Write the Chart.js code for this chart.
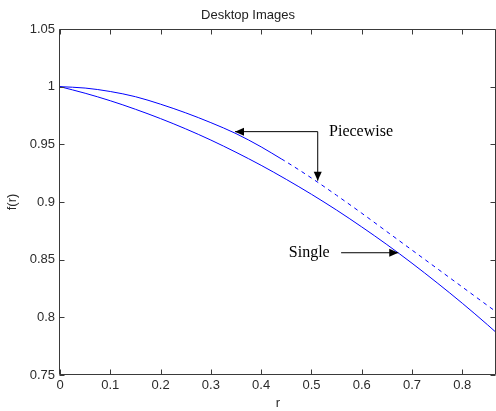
<!DOCTYPE html>
<html>
<head>
<meta charset="utf-8">
<script src="https://cdn.jsdelivr.net/npm/chart.js@4.4.1/dist/chart.umd.min.js"></script>
<style>
  html, body { margin: 0; padding: 0; background: #fff; }
  canvas { display: block; }
</style>
</head>
<body>
<canvas id="curveChart" width="496" height="411"></canvas>
<script>
// f(r)
var singleR = [0, 0.05, 0.1, 0.15, 0.2, 0.25, 0.3, 0.35, 0.4, 0.45, 0.5, 0.55, 0.6, 0.65, 0.7, 0.75, 0.8, 0.85, 0.867];
var singleF = [1.000, 0.9943, 0.9878, 0.9804, 0.9723, 0.9634, 0.9537, 0.9431, 0.9318, 0.9196, 0.9067, 0.893, 0.8784, 0.8631, 0.8469, 0.8299, 0.8122, 0.7936, 0.787];

var piecewiseR = [0, 0.05, 0.1, 0.15, 0.2, 0.25, 0.3, 0.35, 0.4, 0.44, 0.45, 0.5, 0.55, 0.6, 0.65, 0.7, 0.75, 0.8, 0.85, 0.867];
var piecewiseF = [1.000, 0.9988, 0.9958, 0.9913, 0.9848, 0.9773, 0.9688, 0.9593, 0.9478, 0.9374, 0.9348, 0.9208, 0.9058, 0.8903, 0.8743, 0.8583, 0.8423, 0.8263, 0.8103, 0.8049];
var dashFrom = 0.44; // piecewise curve is dashed past this r

var xTicks = [0, 0.1, 0.2, 0.3, 0.4, 0.5, 0.6, 0.7, 0.8];
var xTickLabels = ['0', '0.1', '0.2', '0.3', '0.4', '0.5', '0.6', '0.7', '0.8'];
var yTicks = [0.75, 0.8, 0.85, 0.9, 0.95, 1, 1.05];
var yTickLabels = ['0.75', '0.8', '0.85', '0.9', '0.95', '1', '1.05'];

// labels + arrows in data units (r, f)
var noteTexts = ['Piecewise', 'Single'];
var notePos = [[0.535, 0.961], [0.455, 0.856]];
var arrows = [
    [[0.5125, 0.961], [0.348, 0.961]],
    [[0.5125, 0.961], [0.5125, 0.9185]],
    [[0.559, 0.856], [0.6726, 0.856]]
];

function toPoints(xs, ys) {
    return xs.map(function (x, i) { return { x: x, y: ys[i] }; });
}

// matlab style box with inward ticks
var boxAxes = {
    id: 'boxAxes',
    afterDraw: function (chart) {
        var ctx = chart.ctx, a = chart.chartArea;
        var xs = chart.scales.x, ys = chart.scales.y;
        var L = Math.round(a.left) - 0.5, R = Math.round(a.right) - 0.5;
        var T = Math.round(a.top) + 0.5, B = Math.round(a.bottom) - 0.5;
        ctx.save();
        ctx.strokeStyle = '#3a3a3a';
        ctx.lineWidth = 1;
        ctx.beginPath();
        ctx.moveTo(L, T); ctx.lineTo(R, T);
        ctx.moveTo(L, T); ctx.lineTo(L, B);
        ctx.moveTo(L, B); ctx.lineTo(R, B);
        ctx.moveTo(R, T); ctx.lineTo(R, B);
        xTicks.forEach(function (v) {
            var px = Math.round(xs.getPixelForValue(v)) + 0.5;
            ctx.moveTo(px, B); ctx.lineTo(px, B - 5);
            ctx.moveTo(px, T); ctx.lineTo(px, T + 5);
        });
        yTicks.forEach(function (v) {
            var py = Math.round(ys.getPixelForValue(v)) + 0.5;
            ctx.moveTo(L, py); ctx.lineTo(L + 5, py);
            ctx.moveTo(R, py); ctx.lineTo(R - 5, py);
        });
        ctx.stroke();
        ctx.restore();
    }
};

var notesPlugin = {
    id: 'notes',
    afterDatasetsDraw: function (chart) {
        var ctx = chart.ctx, xs = chart.scales.x, ys = chart.scales.y;
        ctx.save();
        ctx.strokeStyle = '#000';
        ctx.fillStyle = '#000';
        ctx.lineWidth = 1;
        arrows.forEach(function (ar) {
            var x0 = xs.getPixelForValue(ar[0][0]), y0 = ys.getPixelForValue(ar[0][1]);
            var x1 = xs.getPixelForValue(ar[1][0]), y1 = ys.getPixelForValue(ar[1][1]);
            var ang = Math.atan2(y1 - y0, x1 - x0);
            ctx.beginPath();
            ctx.moveTo(x0, y0);
            ctx.lineTo(x1, y1);
            ctx.stroke();
            ctx.beginPath();
            ctx.moveTo(x1, y1);
            ctx.lineTo(x1 - 9 * Math.cos(ang) + 4 * Math.sin(ang), y1 - 9 * Math.sin(ang) - 4 * Math.cos(ang));
            ctx.lineTo(x1 - 9 * Math.cos(ang) - 4 * Math.sin(ang), y1 - 9 * Math.sin(ang) + 4 * Math.cos(ang));
            ctx.closePath();
            ctx.fill();
        });
        ctx.font = '16px "Liberation Serif"';
        ctx.textAlign = 'left';
        ctx.textBaseline = 'middle';
        noteTexts.forEach(function (t, i) {
            ctx.fillText(t, xs.getPixelForValue(notePos[i][0]), ys.getPixelForValue(notePos[i][1]));
        });
        ctx.restore();
    }
};

var tickFont = { family: '"Liberation Sans", Arial, sans-serif', size: 13 };

new Chart(document.getElementById('curveChart'), {
    type: 'scatter',
    data: {
        datasets: [
            {
                label: 'Single',
                data: toPoints(singleR, singleF),
                showLine: true,
                borderColor: '#0000ff',
                borderWidth: 1,
                pointRadius: 0,
                cubicInterpolationMode: 'monotone'
            },
            {
                label: 'Piecewise',
                data: toPoints(piecewiseR, piecewiseF),
                showLine: true,
                borderColor: '#0000ff',
                borderWidth: 1,
                pointRadius: 0,
                cubicInterpolationMode: 'monotone',
                segment: {
                    borderDash: function (ctx) { return ctx.p0.parsed.x >= dashFrom ? [4, 4] : undefined; }
                }
            }
        ]
    },
    options: {
        responsive: false,
        animation: false,
        devicePixelRatio: 1,
        layout: { padding: 0 },
        plugins: {
            legend: { display: false },
            tooltip: { enabled: false },
            title: {
                display: true,
                text: 'Desktop Images',
                color: '#222',
                font: { family: '"Liberation Sans", Arial, sans-serif', size: 13, weight: 'normal' },
                padding: { top: 7.2, bottom: 6.2 }
            }
        },
        scales: {
            x: {
                type: 'linear',
                min: 0,
                max: 0.867,
                afterFit: function (s) { s.height = 36; },
                afterBuildTicks: function (s) { s.ticks = xTicks.map(function (v) { return { value: v }; }); },
                grid: { display: false, drawTicks: false },
                border: { display: false },
                ticks: {
                    color: '#2b2b2b',
                    font: tickFont,
                    padding: 3,
                    maxRotation: 0,
                    autoSkip: false,
                    callback: function (v, i) { return xTickLabels[i]; }
                },
                title: { display: true, text: 'r', color: '#2b2b2b', font: tickFont, padding: 0 }
            },
            y: {
                min: 0.75,
                max: 1.05,
                afterFit: function (s) { s.width = 60; },
                afterBuildTicks: function (s) { s.ticks = yTicks.map(function (v) { return { value: v }; }); },
                grid: { display: false, drawTicks: false },
                border: { display: false },
                ticks: {
                    color: '#2b2b2b',
                    font: tickFont,
                    padding: 5,
                    autoSkip: false,
                    callback: function (v, i) { return yTickLabels[i]; }
                },
                title: { display: true, text: 'f(r)', color: '#2b2b2b', font: tickFont, padding: { top: 5, bottom: 0 } }
            }
        }
    },
    plugins: [boxAxes, notesPlugin]
});
</script>
</body>
</html>
